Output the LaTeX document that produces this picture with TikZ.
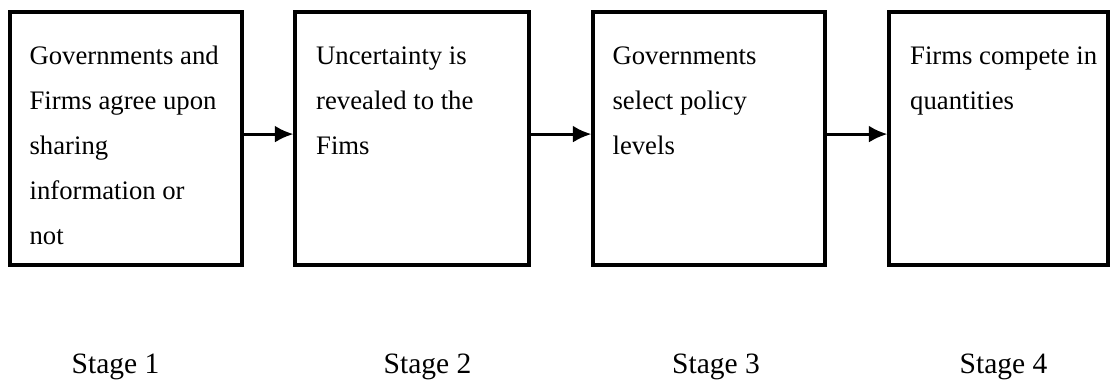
\documentclass[tikz,border=0pt]{standalone}
\usepackage{fontspec}
\setmainfont{Liberation Serif}
\usetikzlibrary{arrows.meta,positioning}

\begin{document}
\begin{tikzpicture}[
		stagebox/.style={draw, line width=2.3pt, minimum height=6.325cm, inner sep=0pt},
		boxtext/.style={inner sep=0pt, outer sep=0pt, align=left, font=\fontsize{19}{32}\selectfont},
		stagelabel/.style={anchor=base, inner sep=0pt, font=\fontsize{21}{25}\selectfont},
		flow/.style={line width=2pt, -{Latex[length=4.6mm, width=4.2mm]}}
	]
		%%%%% START %%%%%
		
		\useasboundingbox (0, 0) rectangle (27.775, 9.5);
		
		\node[stagebox, minimum width=5.8cm] (box1) at (3.15, 6.0375) {};
		\node[stagebox, minimum width=5.85cm] (box2) at (10.3, 6.0375) {};
		\node[stagebox, minimum width=5.8cm] (box3) at (17.725, 6.0375) {};
		\node[stagebox, minimum width=5.475cm] (box4) at (24.9625, 6.0375) {};
		
		\node[boxtext, below right=0.9cm and 0.53cm of box1.north west] (txt1) {Governments and\\Firms agree upon\\sharing\\information or\\not};
		\node[boxtext, below right=0.9cm and 0.57cm of box2.north west] (txt2) {Uncertainty is\\revealed to the\\Fims};
		\node[boxtext, below right=0.9cm and 0.53cm of box3.north west] (txt3) {Governments\\select policy\\levels};
		\node[boxtext, below right=0.9cm and 0.57cm of box4.north west] (txt4) {Firms compete in\\quantities};
		
		\draw[flow] ([yshift=0.11cm]box1.east) -- ([yshift=0.11cm]box2.west);
		\draw[flow] ([yshift=0.11cm]box2.east) -- ([yshift=0.11cm]box3.west);
		\draw[flow] ([yshift=0.11cm]box3.east) -- ([yshift=0.11cm]box4.west);
		
		\foreach \n/\x in {1/2.8875, 2/10.6875, 3/17.9, 4/25.0875}
			\node[stagelabel] (stage\n) at (\x, 0.17) {Stage \n};
		
		%%%%% END %%%%%
	\end{tikzpicture}
\end{document}
